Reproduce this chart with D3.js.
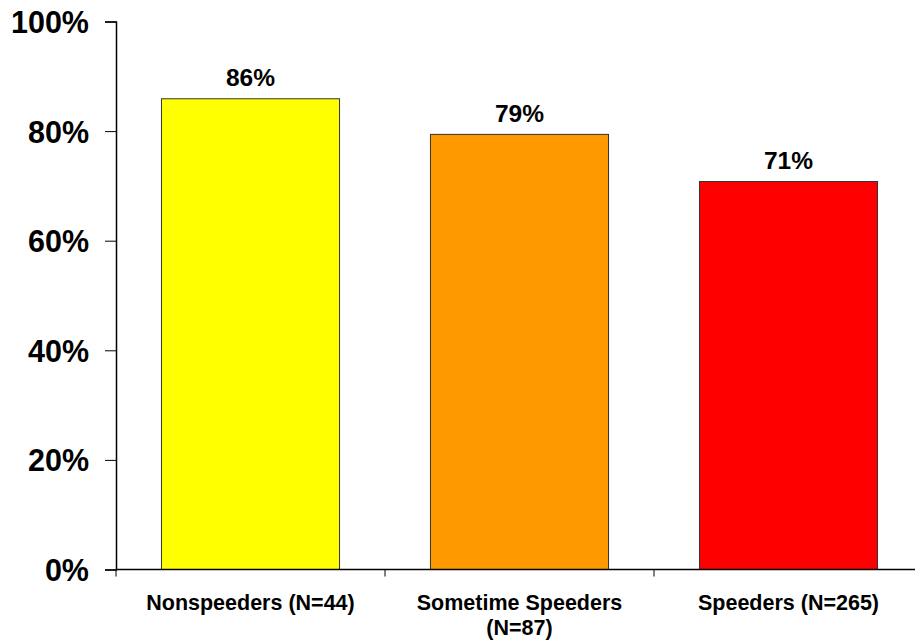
<!DOCTYPE html>
<html>
<head>
<meta charset="utf-8">
<script src="https://cdn.jsdelivr.net/npm/d3@7"></script>
<style>
  body { margin: 0; background: #fff; }
  text { font-family: "Liberation Sans", Arial, sans-serif; font-weight: bold; fill: #000; }
</style>
</head>
<body>
<div id="chart"></div>
<script>
// data
const categories = ["Nonspeeders (N=44)", "Sometime Speeders (N=87)", "Speeders (N=265)"];
const labelLines = [["Nonspeeders (N=44)"], ["Sometime Speeders", "(N=87)"], ["Speeders (N=265)"]];
const values = [85.9, 79.4, 70.8];
const valueLabels = ["86%", "79%", "71%"];
const barColors = ["#FFFF00", "#FF9900", "#FF0000"];
const yTicks = [0, 20, 40, 60, 80, 100];

const width = 915, height = 642;
const margin = { top: 21.5, left: 116, right: -8, bottom: 72.5 };

const svg = d3.select("#chart").append("svg")
  .attr("width", width)
  .attr("height", height);

const x = d3.scaleBand()
  .domain(categories)
  .range([margin.left, width - margin.right])
  .paddingInner(0.338)
  .paddingOuter(0.169);

const y = d3.scaleLinear()
  .domain([0, 100])
  .range([height - margin.bottom, margin.top]);

// bars
svg.selectAll("rect.bar")
  .data(values)
  .join("rect")
  .attr("class", "bar")
  .attr("x", (d, i) => x(categories[i]))
  .attr("y", d => y(d))
  .attr("width", x.bandwidth())
  .attr("height", d => y(0) - y(d))
  .attr("fill", (d, i) => barColors[i])
  .attr("stroke", "#333")
  .attr("stroke-width", 1);

// value labels
svg.selectAll("text.val")
  .data(values)
  .join("text")
  .attr("class", "val")
  .attr("x", (d, i) => x(categories[i]) + x.bandwidth() / 2)
  .attr("y", d => y(d) - 12.5)
  .attr("text-anchor", "middle")
  .attr("font-size", 24.5)
  .text((d, i) => valueLabels[i]);

// y axis
const yAxis = svg.append("g")
  .attr("transform", `translate(${margin.left},0)`)
  .call(d3.axisLeft(y).tickValues(yTicks).tickSize(11).tickPadding(16).tickFormat(d => d + "%"));
yAxis.select(".domain").attr("stroke", "#000").attr("stroke-width", 1.5);
yAxis.selectAll(".tick line").attr("stroke", "#000");
yAxis.selectAll(".tick text")
  .attr("font-size", 30.5)
  .attr("font-family", "Liberation Sans, Arial, sans-serif")
  .attr("font-weight", "bold")
  .attr("dy", "0.36em")
  .attr("fill", "#000");

// x axis line and category separators
svg.append("line")
  .attr("x1", margin.left).attr("x2", width)
  .attr("y1", y(0)).attr("y2", y(0))
  .attr("stroke", "#000").attr("stroke-width", 1.5);

const step = x.step();
svg.selectAll("line.xtick")
  .data(d3.range(categories.length + 1))
  .join("line")
  .attr("class", "xtick")
  .attr("x1", i => margin.left + i * step)
  .attr("x2", i => margin.left + i * step)
  .attr("y1", y(0))
  .attr("y2", y(0) + 7)
  .attr("stroke", "#000");

// category labels
const catG = svg.selectAll("text.cat")
  .data(categories)
  .join("text")
  .attr("class", "cat")
  .attr("text-anchor", "middle")
  .attr("font-size", 21.5)
  .attr("x", d => x(d) + x.bandwidth() / 2)
  .attr("y", y(0) + 40);

catG.selectAll("tspan")
  .data((d, i) => labelLines[i].map(t => ({ t, c: d })))
  .join("tspan")
  .attr("x", d => x(d.c) + x.bandwidth() / 2)
  .attr("dy", (d, j) => j === 0 ? 0 : 25)
  .text(d => d.t);
</script>
</body>
</html>
